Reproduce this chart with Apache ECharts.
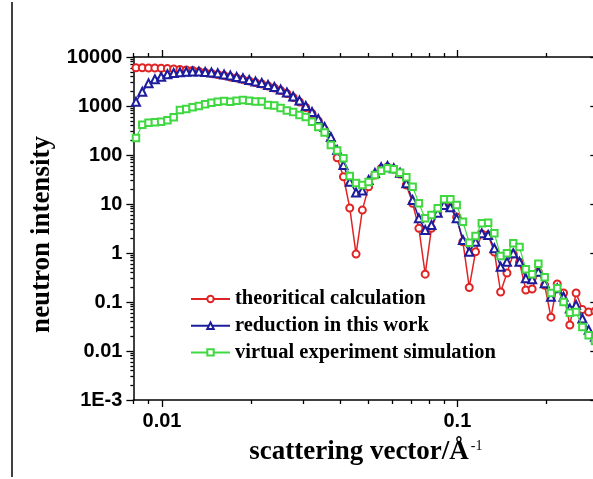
<!DOCTYPE html>
<html><head><meta charset="utf-8">
<script src="https://cdn.jsdelivr.net/npm/echarts@6/dist/echarts.min.js"></script>
<style>html,body{margin:0;padding:0;background:#fff}#c{width:593px;height:479px}</style>
</head><body><div id="c"></div>
<script>
// scattering vector q (1/Å)
const q = [0.008163,0.008574,0.009005,0.009458,0.009933,0.01043,0.01095,0.01150,0.01208,0.01269,
  0.01333,0.01400,0.01470,0.01544,0.01622,0.01703,0.01789,0.01879,0.01973,0.02072,
  0.02176,0.02285,0.02400,0.02521,0.02647,0.02780,0.02920,0.03066,0.03220,0.03382,
  0.03552,0.03730,0.03917,0.04114,0.04321,0.04539,0.04767,0.05006,0.05257,0.05521,
  0.05799,0.06090,0.06396,0.06717,0.07054,0.07408,0.07780,0.08171,0.08581,0.09016,
  0.09469,0.09945,0.1044,0.1097,0.1152,0.1210,0.1271,0.1334,0.1401,0.1472,
  0.1546,0.1623,0.1705,0.1791,0.1880,0.1975,0.2074,0.2178,0.2288,0.2403,
  0.2523,0.2650,0.2783,0.2923];
const theoretical = [6050,6050,5970,5970,5880,5800,5690,5560,5430,5300,
  5060,4830,4610,4390,4190,3910,3730,3470,3240,3020,
  2810,2560,2330,2070,1800,1490,1210,932,703,494,
  324,193,88,36,8.3,0.95,7.5,22.5,39,53,
  57,51.8,40.9,24.4,10.3,3.19,0.37,3.19,6.9,9.5,
  8.5,5.4,1.70,0.198,1.06,2.45,2.33,1.05,0.16,0.39,
  0.95,0.65,0.176,0.184,0.41,0.22,0.049,0.233,0.153,0.034,
  0.153,0.07,0.0625,0.065];
const reduction = [1225,1960,2900,3510,3960,4440,4710,4870,5010,5060,
  5060,4940,4830,4650,4390,4190,3900,3680,3390,3160,
  2950,2680,2440,2170,1890,1560,1290,1000,755,543,
  373,233,126,62.5,28.5,17.2,18.9,30.9,43,56,
  59.7,53.6,43.6,26.4,12.1,5.1,2.95,3.73,6.6,9.5,
  8.6,5.1,1.84,1.06,1.70,2.52,2.33,1.25,0.525,0.66,
  0.99,0.66,0.305,0.29,0.415,0.241,0.128,0.19,0.128,0.074,
  0.087,0.046,0.027,0.0196];
const virtualSim = [222,415,456,465,478,511,588,828,868,940,
  1000,1083,1168,1225,1266,1225,1283,1325,1283,1236,
  1236,1047,1023,910,809,755,655,597,478,373,
  288,160,124,85.7,37.3,26.8,24.4,28.1,39,47.8,
  53.6,51,43.6,35,22.5,10.3,5.1,5.97,8.2,12.5,
  12.5,9.5,4.35,1.62,2.22,4.03,4.15,2.52,0.87,0.99,
  1.58,1.32,0.465,0.37,0.60,0.32,0.153,0.19,0.10,0.06,
  0.0625,0.031,0.021,0.016];
const seriesNames = ['theoritical calculation','reduction in this work','virtual experiment simulation'];
const xMajor = [0.01, 0.1];
const xLabels = ['0.01', '0.1'];
const xMinor = [0.008,0.009,0.02,0.03,0.04,0.05,0.06,0.07,0.08,0.09,0.2,0.3];
const yMajor = [0.001,0.01,0.1,1,10,100,1000,10000];
const yLabels = ['1E-3','0.01','0.1','1','10','100','1000','10000'];
const yMinor = [];
for (let e = -3; e < 4; e++) for (let m = 2; m <= 9; m++) yMinor.push(+(m * Math.pow(10, e)).toPrecision(3));

const black = '#000';
const serif = '"Liberation Serif","Times New Roman",serif';
const sans = '"Liberation Sans",Arial,sans-serif';
const X_MIN = 0.008, X_MAX = 0.3, Y_MIN = 0.001, Y_MAX = 10000;

function xAx(pos, ticks, len, opts) {
  return Object.assign({
    type: 'log', logBase: 10, min: X_MIN, max: X_MAX, position: pos,
    axisLine: { show: false, onZero: false, lineStyle: { color: black, width: 1.5 } },
    axisTick: { show: true, inside: false, length: len, customValues: ticks, lineStyle: { color: black, width: 1.3 } },
    axisLabel: { show: false }, splitLine: { show: false }, minorTick: { show: false }
  }, opts || {});
}
function yAx(pos, ticks, len, inside, opts) {
  return Object.assign({
    type: 'log', logBase: 10, min: Y_MIN, max: Y_MAX, position: pos,
    axisLine: { show: false, onZero: false, lineStyle: { color: black, width: 1.5 } },
    axisTick: { show: true, inside: inside, length: len, customValues: ticks, lineStyle: { color: black, width: 1.3 } },
    axisLabel: { show: false }, splitLine: { show: false }, minorTick: { show: false }
  }, opts || {});
}

const chart = echarts.init(document.getElementById('c'), null, { renderer: 'canvas' });
const colors = ['#e02424', '#1c1c9c', '#40d840'];
const symbols = ['emptyCircle', 'emptyTriangle', 'emptyRect'];
const sizes = [7, 8, 6.5];
const values = [theoretical, reduction, virtualSim];

chart.setOption({
  animation: false,
  backgroundColor: '#fff',
  grid: { left: 133.4, right: -5.3, top: 57, bottom: 79, containLabel: false, outerBoundsMode: 'none' },
  graphic: [{ type: 'line', shape: { x1: 12, y1: 2, x2: 12, y2: 477 }, style: { stroke: black, lineWidth: 1.5 } }],
  legend: {
    orient: 'vertical', left: 185, top: 283, itemWidth: 39, itemHeight: 8, itemGap: 4.7,
    data: seriesNames,
    textStyle: { fontFamily: serif, fontWeight: 'bold', fontSize: 20.5, color: black, lineHeight: 22 }
  },
  xAxis: [
    xAx('bottom', xMajor, 7, {
      axisLine: { show: true, onZero: false, lineStyle: { color: black, width: 1.5 } },
      axisLabel: {
        show: true, customValues: xMajor, margin: 11, fontSize: 20, fontWeight: 'bold', fontFamily: sans, color: black,
        formatter: v => xLabels[Math.round(Math.log10(v)) + 2]
      },
      name: 'scattering vector/Å{sup|-1}', nameLocation: 'middle', nameGap: 39,
      nameTextStyle: {
        fontFamily: serif, fontWeight: 'bold', fontSize: 27, color: black,
        rich: { sup: { fontFamily: serif, fontSize: 14, fontWeight: 'normal', color: black, verticalAlign: 'top', padding: [0, 0, 0, 2] } }
      }
    }),
    xAx('bottom', xMinor, 4),
    xAx('top', xMajor, 7, { axisLine: { show: true, onZero: false, lineStyle: { color: black, width: 1.5 } } }),
    xAx('top', xMinor, 4)
  ],
  yAxis: [
    yAx('left', yMajor, 7, false, {
      axisLine: { show: true, onZero: false, lineStyle: { color: black, width: 1.5 } },
      axisLabel: {
        show: true, customValues: yMajor, margin: 11, fontSize: 20, fontWeight: 'bold', fontFamily: sans, color: black,
        formatter: v => yLabels[Math.round(Math.log10(v)) + 3]
      },
      name: 'neutron intensity', nameLocation: 'middle', nameRotate: 90, nameGap: 72,
      nameTextStyle: { fontFamily: serif, fontWeight: 'bold', fontSize: 27, color: black, padding: [0, 12, 0, 0] }
    }),
    yAx('left', yMinor, 3, false),
    yAx('right', yMajor, 8, true, { axisLine: { show: true, onZero: false, lineStyle: { color: black, width: 1.5 } } }),
    yAx('right', yMinor, 4, true)
  ],
  series: seriesNames.map((n, k) => ({
    type: 'line', name: n, xAxisIndex: 0, yAxisIndex: 0,
    data: q.map((x, i) => [x, values[k][i]]),
    symbol: symbols[k], symbolSize: sizes[k], showAllSymbol: true,
    lineStyle: { color: colors[k], width: k === 2 ? 1.2 : 1.5 },
    itemStyle: { color: colors[k], borderWidth: 1 },
    z: 2 + k
  }))
});
</script></body></html>
